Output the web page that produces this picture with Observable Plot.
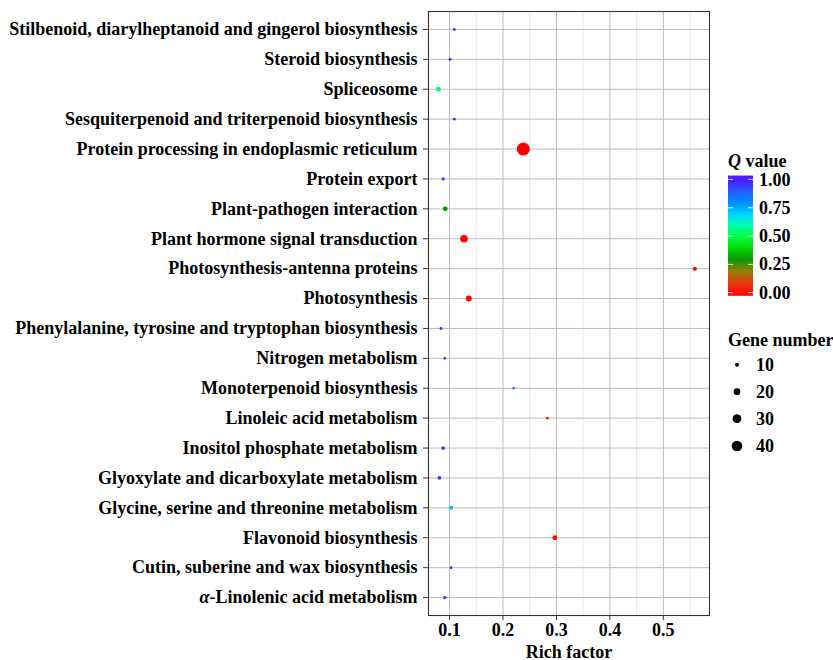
<!DOCTYPE html>
<html><head><meta charset="utf-8">
<script src="https://cdn.jsdelivr.net/npm/d3@7"></script>
<script src="https://cdn.jsdelivr.net/npm/@observablehq/plot@0.6"></script>
<style>body{margin:0;background:#fff} #chart{width:833px;height:660px}</style>
</head><body><div id="chart"></div>
<script>
const pathways = [
  "Stilbenoid, diarylheptanoid and gingerol biosynthesis",
  "Steroid biosynthesis",
  "Spliceosome",
  "Sesquiterpenoid and triterpenoid biosynthesis",
  "Protein processing in endoplasmic reticulum",
  "Protein export",
  "Plant-pathogen interaction",
  "Plant hormone signal transduction",
  "Photosynthesis-antenna proteins",
  "Photosynthesis",
  "Phenylalanine, tyrosine and tryptophan biosynthesis",
  "Nitrogen metabolism",
  "Monoterpenoid biosynthesis",
  "Linoleic acid metabolism",
  "Inositol phosphate metabolism",
  "Glyoxylate and dicarboxylate metabolism",
  "Glycine, serine and threonine metabolism",
  "Flavonoid biosynthesis",
  "Cutin, suberine and wax biosynthesis",
  "α-Linolenic acid metabolism"
];
const richFactor = [0.109, 0.101, 0.079, 0.109, 0.238, 0.088, 0.092, 0.127, 0.559, 0.136,
                    0.084, 0.091, 0.220, 0.283, 0.088, 0.081, 0.103, 0.297, 0.103, 0.091];
const qValue     = [0.97, 0.97, 0.55, 0.97, 0.00, 0.95, 0.31, 0.00, 0.00, 0.01,
                    0.97, 0.95, 0.87, 0.07, 0.96, 0.97, 0.73, 0.02, 0.97, 0.97];
const geneNumber = [7, 7, 13, 7, 56, 8, 13, 24, 10, 17,
                    7, 7, 6, 7, 9, 9, 10, 13, 7, 8];

const xTicks = [0.1, 0.2, 0.3, 0.4, 0.5];
const xMinorTicks = [0.15, 0.25, 0.35, 0.45, 0.55];
const qTicks = [0, 0.25, 0.5, 0.75, 1];
const qStops  = [0, 0.1, 0.2, 0.3, 0.4, 0.5, 0.6, 0.7, 0.8, 0.9, 1];
const qColors = ["#ff0000","#e03800","#8c7c00","#009800","#00d800","#00ff40","#00ffb0","#00d4ff","#0090ff","#2a5cff","#4a1cff"];
const sizeBreaks = [10, 20, 30, 40];

const data = pathways.map((p, i) => ({pathway: p, rich: richFactor[i], q: qValue[i], genes: geneNumber[i]}));

const font = "'Liberation Serif', 'Times New Roman', serif";
const plot = Plot.plot({
  width: 833, height: 660,
  marginLeft: 428, marginRight: 124, marginTop: 11, marginBottom: 45,
  style: {fontFamily: font, fontSize: "18px", fontWeight: "bold", color: "#000", background: "#fff", overflow: "visible"},
  x: {domain: [0.0606, 0.5864]},
  y: {domain: pathways, type: "point", padding: 0.6, round: false},
  color: {type: "linear", domain: qStops, range: qColors, interpolate: "rgb"},
  r: {type: "sqrt", domain: [4, 56], range: [0.79, 6.51]},
  marks: [
    Plot.gridX(xMinorTicks, {stroke: "#e8e8e8", strokeOpacity: 1, strokeWidth: 1}),
    Plot.gridX(xTicks, {stroke: "#bdbdbd", strokeOpacity: 1, strokeWidth: 1}),
    Plot.gridY(pathways, {stroke: "#bdbdbd", strokeOpacity: 1, strokeWidth: 1}),
    Plot.frame({stroke: "#333", strokeWidth: 1.1}),
    Plot.axisX(xTicks, {tickSize: 5, tickPadding: 3, stroke: "#333", tickFormat: d3.format(".1f"),
      label: "Rich factor", labelAnchor: "center", labelArrow: "none", labelOffset: 42}),
    Plot.axisY({tickSize: 5, tickPadding: 6, stroke: "#333", label: null}),
    Plot.dot(data, {x: "rich", y: "pathway", r: "genes", fill: "q", stroke: null})
  ]
});

// italic alpha in tick label
d3.select(plot).selectAll("text").each(function() {
  if (this.textContent === "α-Linolenic acid metabolism") {
    const t = d3.select(this);
    t.text(null);
    t.append("tspan").attr("font-style", "italic").text("α");
    t.append("tspan").text("-Linolenic acid metabolism");
  }
});

// legends drawn from the plot's own scales
const colorScale = plot.scale("color");
const rScale = plot.scale("r");
const svg = d3.select(plot);
const lg = svg.append("g").attr("font-family", font).attr("font-weight", "bold")
  .attr("font-size", 18).attr("text-anchor", "start").attr("fill", "#000");

// Q value colourbar
const barX = 728, barW = 25, y0 = 292.7, y1 = 179.4; // value 0 -> y0, 1 -> y1
const vy = v => y0 + (y1 - y0) * v;
const title = lg.append("text").attr("x", 728).attr("y", 167);
title.append("tspan").attr("font-style", "italic").text("Q");
title.append("tspan").text(" value");
const nSteps = 120, vLo = -0.022, vHi = 1.034;
for (let i = 0; i < nSteps; i++) {
  const a = vLo + (vHi - vLo) * i / nSteps, b = vLo + (vHi - vLo) * (i + 1) / nSteps;
  const mid = Math.max(0, Math.min(1, (a + b) / 2));
  lg.append("rect").attr("x", barX).attr("width", barW)
    .attr("y", vy(b)).attr("height", vy(a) - vy(b) + 0.6)
    .attr("fill", colorScale.apply(mid));
}
for (const t of qTicks) {
  lg.append("line").attr("x1", barX).attr("x2", barX + 5).attr("y1", vy(t)).attr("y2", vy(t)).attr("stroke", "#fff").attr("stroke-opacity", 0.8);
  lg.append("line").attr("x1", barX + barW - 5).attr("x2", barX + barW).attr("y1", vy(t)).attr("y2", vy(t)).attr("stroke", "#fff").attr("stroke-opacity", 0.8);
  lg.append("text").attr("x", 759).attr("y", vy(t)).attr("dy", "0.34em").text(d3.format(".2f")(t));
}

// Gene number legend
lg.append("text").attr("x", 728).attr("y", 346).text("Gene number");
const sizeY = [364.7, 391.7, 418.7, 446];
sizeBreaks.forEach((s, i) => {
  lg.append("circle").attr("cx", 737).attr("cy", sizeY[i]).attr("r", rScale.apply(s)).attr("fill", "#000");
  lg.append("text").attr("x", 756).attr("y", sizeY[i]).attr("dy", "0.34em").text(s);
});

document.getElementById("chart").append(plot);
</script>
</body></html>
